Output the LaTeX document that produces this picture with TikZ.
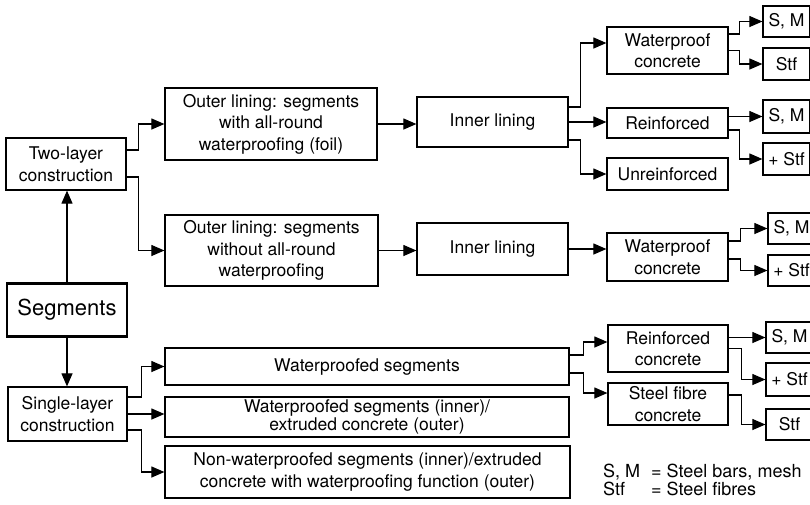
\documentclass[tikz,border=0pt]{standalone}
\usepackage{fontspec}
\setmainfont{TeX Gyre Heros}
\usetikzlibrary{arrows.meta}
\begin{document}
\begin{tikzpicture}[x=1pt,y=-1pt,
  box/.style={draw, line width=1.2pt, align=center, inner sep=0pt,
    font=\fontsize{17.5}{21.5}\selectfont},
  leaf/.style={box, minimum width=47pt},
  link/.style={line width=1.1pt, -{Triangle[length=13pt,width=11pt]}},
]
\useasboundingbox (0,0) rectangle (810,504);

% left column
\node[box, minimum width=120pt, minimum height=52pt] (two) at (66,164) {Two-layer\\construction};
\node[box, line width=2.8pt, minimum width=120pt, minimum height=53pt,
  font=\fontsize{22}{26}\selectfont] (seg) at (67,310) {Segments};
\node[box, minimum width=119pt, minimum height=54pt] (single) at (67.5,414) {Single-layer\\construction};

% two-layer branch
\node[box, minimum width=212pt, minimum height=72pt] (outer1) at (271,124)
  {Outer lining: segments\\with all-round\\waterproofing (foil)};
\node[box, minimum width=213pt, minimum height=71pt] (outer2) at (271.5,250.5)
  {Outer lining: segments\\without all-round\\waterproofing};
\node[box, minimum width=151pt, minimum height=50pt] (inner1) at (492.5,122) {Inner lining};
\node[box, minimum width=151pt, minimum height=52pt] (inner2) at (492.5,249) {Inner lining};
\node[box, minimum width=121pt, minimum height=47pt] (wc1) at (667.5,50.5) {Waterproof\\concrete};
\node[box, minimum width=121pt, minimum height=30pt] (reinf) at (667.5,123) {Reinforced};
\node[box, minimum width=121pt, minimum height=32pt] (unreinf) at (667.5,174) {Unreinforced};
\node[box, minimum width=121pt, minimum height=48pt] (wc2) at (667.5,257) {Waterproof\\concrete};

% single-layer branch
\node[box, minimum width=404pt, minimum height=37pt] (ws) at (367,366.5) {Waterproofed segments};
\node[box, minimum width=404pt, minimum height=40pt, font=\fontsize{17.5}{18.5}\selectfont] (wsi) at (367,417)
  {Waterproofed segments (inner)/\\extruded concrete (outer)};
\node[box, minimum width=405pt, minimum height=52pt] (nws) at (367.5,472)
  {Non-waterproofed segments (inner)/extruded\\concrete with waterproofing function (outer)};
\node[box, minimum width=120pt, minimum height=47pt] (rc) at (668,348.5) {Reinforced\\concrete};
\node[box, minimum width=120pt, minimum height=42pt] (sfc) at (668,404) {Steel fibre\\concrete};

% reinforcement leaves (left edge given, box runs off to the right)
\node[leaf, minimum height=31pt] (sm1) at (786.5,21.5) {S, M};
\node[leaf, minimum height=32pt] (stf1) at (786.5,64) {Stf};
\node[leaf, minimum height=33pt] (sm2) at (786.5,116.5) {S, M};
\node[leaf, minimum height=32pt] (pstf1) at (786.5,159) {+ Stf};
\node[leaf, minimum height=31pt] (sm3) at (791.5,228.5) {S, M};
\node[leaf, minimum height=31pt] (pstf2) at (791.5,270.5) {+ Stf};
\node[leaf, minimum height=31pt] (sm4) at (789.5,337.5) {S, M};
\node[leaf, minimum height=33pt] (pstf3) at (789.5,379.5) {+ Stf};
\node[leaf, minimum height=31pt] (stf2) at (789.5,424.5) {Stf};

% key
\node[anchor=base west, inner sep=0pt, font=\fontsize{18}{17.5}\selectfont] (key) at (603,477)
  {\begin{tabular}[t]{@{}l@{\hspace{11pt}}l@{}}S, M & = Steel bars, mesh\\ Stf & = Steel fibres\end{tabular}};

% connectors
\draw[link] (seg.north) -- (seg.north |- two.south);
\draw[link] (seg.south) -- (seg.south |- single.north);
\draw[link] ([yshift=14pt]two.east) -- ++(12,0) |- (outer1.west);
\draw[link] ([yshift=-13pt]two.east) -- ++(12,0) |- (outer2.west);
\draw[link] ([yshift=17pt]single.east) -- ++(14,0) |- (ws.west);
\draw[link] (single.east) -- (single.east -| wsi.west);
\draw[link] ([yshift=-16pt]single.east) -- ++(14,0) |- (nws.west);

\draw[link] (outer1.east) -- (outer1.east -| inner1.west);
\draw[link] (outer2.east) -- (outer2.east -| inner2.west);
\draw[link] ([yshift=15pt]inner1.east) -- ++(12,0) |- ([yshift=7.5pt]wc1.west);
\draw[link] (inner1.east) -- (inner1.east -| reinf.west);
\draw[link] ([yshift=-18pt]inner1.east) -- ++(12,0) |- (unreinf.west);
\draw[link] (inner2.east) -- (inner2.east -| wc2.west);

\draw[link] ([yshift=16.5pt]wc1.east) -- ++(11,0) |- (sm1.west);
\draw[link] (wc1.east) -- ++(11,0) |- (stf1.west);
\draw[link] (reinf.east |- sm2.west) -- (sm2.west);
\draw[link] ([yshift=-7pt]reinf.east) -- ++(11,0) |- (pstf1.west);
\draw[link] ([yshift=16pt]wc2.east) -- ++(12,0) |- (sm3.west);
\draw[link] ([yshift=-2pt]wc2.east) -- ++(12,0) |- (pstf2.west);

\draw[link] ([yshift=11.5pt]ws.east) -- ++(14,0) |- ([yshift=6.5pt]rc.west);
\draw[link] ([yshift=-6.5pt]ws.east) -- ++(14,0) |- ([yshift=11pt]sfc.west);
\draw[link] (rc.east |- sm4.west) -- (sm4.west);
\draw[link] (rc.east) -- ++(13,0) |- (pstf3.west);
\draw[link] ([yshift=9pt]sfc.east) -- ++(13,0) |- (stf2.west);
\end{tikzpicture}
\end{document}
